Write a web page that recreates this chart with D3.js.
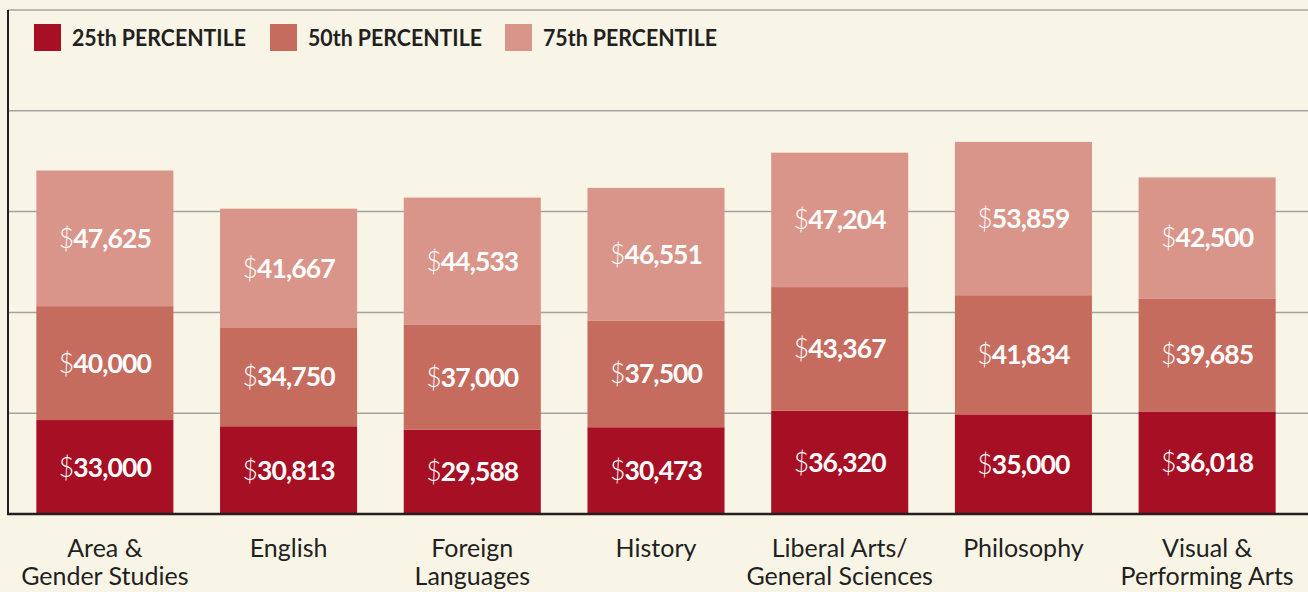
<!DOCTYPE html>
<html>
<head>
<meta charset="utf-8">
<script src="https://cdn.jsdelivr.net/npm/d3@7"></script>
<style>
  body { margin: 0; background: #f8f5e7; }
  svg { display: block; }
</style>
</head>
<body>
<svg id="chart" width="1308" height="592"></svg>
<script>
// data
var majors = ['Area & Gender Studies', 'English', 'Foreign Languages', 'History',
  'Liberal Arts/ General Sciences', 'Philosophy', 'Visual & Performing Arts'];
var majorLines = [['Area &', 'Gender Studies'], ['English'], ['Foreign', 'Languages'], ['History'],
  ['Liberal Arts/', 'General Sciences'], ['Philosophy'], ['Visual &', 'Performing Arts']];
var p25 = [33000, 30813, 29588, 30473, 36320, 35000, 36018];
var p50 = [40000, 34750, 37000, 37500, 43367, 41834, 39685];
var p75 = [47625, 41667, 44533, 46551, 47204, 53859, 42500];
var seriesNames = ['25th PERCENTILE', '50th PERCENTILE', '75th PERCENTILE'];
var colors = ['#a70f24', '#c66c5f', '#d99589'];
var yMax = 177000;

var svg = d3.select('#chart');
var plot = { left: 8, top: 10, right: 1308, bottom: 514 };

var x = d3.scaleBand()
  .domain(majors)
  .range([13, 1299])
  .paddingInner(0.254)
  .paddingOuter(0.127);

var y = d3.scaleLinear()
  .domain([0, yMax])
  .range([plot.bottom, plot.top]);

// background
svg.append('rect')
  .attr('width', 1308).attr('height', 592)
  .style('fill', '#f8f5e7');

// grid lines (top border is the last one)
svg.append('g').attr('class', 'grid')
  .selectAll('line')
  .data(d3.range(1, 6).map(k => k * yMax / 5))
  .enter().append('line')
  .attr('x1', plot.left).attr('x2', plot.right)
  .attr('y1', d => y(d)).attr('y2', d => y(d))
  .style('stroke', '#a3a3a3')
  .style('stroke-width', 1.5);

// stack the three series
var rows = majors.map((m, i) => ({ major: m, p25: p25[i], p50: p50[i], p75: p75[i] }));
var stack = d3.stack().keys(['p25', 'p50', 'p75'])(rows);

var fmt = d3.format(',');

var layers = svg.append('g').selectAll('g')
  .data(stack)
  .enter().append('g')
  .style('fill', (d, i) => colors[i]);

layers.selectAll('rect')
  .data(d => d)
  .enter().append('rect')
  .attr('x', d => x(d.data.major))
  .attr('width', x.bandwidth())
  .attr('y', d => y(d[1]))
  .attr('height', d => y(d[0]) - y(d[1]));

var labels = layers.selectAll('text')
  .data(d => d)
  .enter().append('text')
  .attr('x', d => x(d.data.major) + x.bandwidth() / 2)
  .attr('y', d => (y(d[0]) + y(d[1])) / 2)
  .attr('dy', '0.36em')
  .attr('text-anchor', 'middle')
  .style('fill', '#fff')
  .style('font-family', 'Lato, sans-serif')
  .style('font-size', '26.5px')
  .style('letter-spacing', '-0.9px');
labels.append('tspan').style('font-weight', 300).text('$');
labels.append('tspan').style('font-weight', 700).text(d => fmt(d[1] - d[0]));

// axes lines
svg.append('line')
  .attr('x1', plot.left).attr('x2', plot.left)
  .attr('y1', plot.top).attr('y2', plot.bottom + 1)
  .style('stroke', '#231f20').style('stroke-width', 2);
svg.append('line')
  .attr('x1', plot.left - 1).attr('x2', plot.right)
  .attr('y1', plot.bottom).attr('y2', plot.bottom)
  .style('stroke', '#231f20').style('stroke-width', 2.5);

// category labels
var cats = svg.append('g').selectAll('text')
  .data(majors)
  .enter().append('text')
  .attr('x', d => x(d) + x.bandwidth() / 2)
  .attr('y', 557)
  .attr('text-anchor', 'middle')
  .style('fill', '#231f20')
  .style('font-family', 'Lato, sans-serif')
  .style('font-size', '25px');
cats.selectAll('tspan')
  .data((d, i) => majorLines[i])
  .enter().append('tspan')
  .attr('x', function() { return this.parentNode.getAttribute('x'); })
  .attr('dy', (d, i) => i === 0 ? 0 : 28)
  .text(d => d);

// legend
var legendX = [34, 270, 505];
var legend = svg.append('g').selectAll('g')
  .data(seriesNames)
  .enter().append('g')
  .attr('transform', (d, i) => 'translate(' + legendX[i] + ',24)');
legend.append('rect')
  .attr('width', 27).attr('height', 27)
  .style('fill', (d, i) => colors[i]);
legend.append('text')
  .attr('x', 38).attr('y', 13.5).attr('dy', '0.36em')
  .attr('textLength', 174)
  .attr('lengthAdjust', 'spacingAndGlyphs')
  .style('fill', '#231f20')
  .style('font-family', 'Lato, sans-serif')
  .style('font-weight', 700)
  .style('font-size', '23px')
  .text(d => d);
</script>
</body>
</html>
